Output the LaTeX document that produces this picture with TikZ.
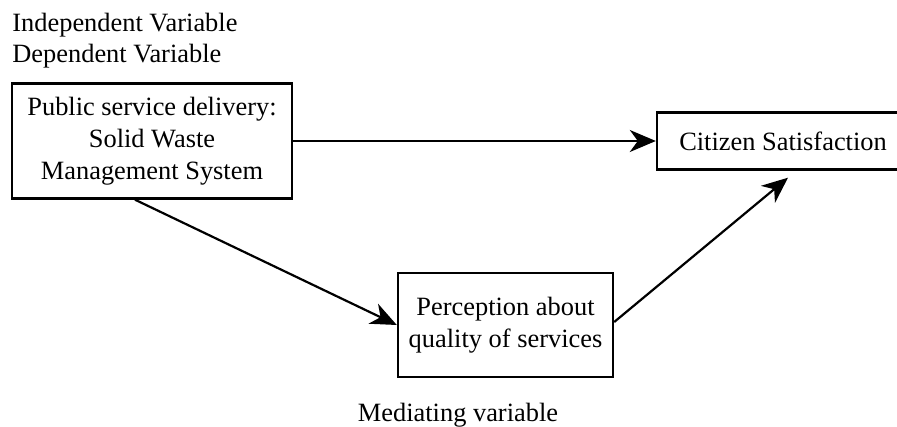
\documentclass[tikz,border=0pt]{standalone}
\usepackage{fontspec}
\setmainfont{Liberation Serif}
\usetikzlibrary{arrows.meta,positioning}

\tikzset{
  varbox/.style={draw, line width=1.2pt, align=center, inner sep=0pt},
  varlabel/.style={inner sep=0pt},
  link/.style={-{Stealth[length=13pt,width=11pt,inset=4pt]}, line width=1.1pt}
}

\begin{document}
\begin{tikzpicture}[x=0.5pt,y=0.5pt]

  \fontsize{13.2}{16}\selectfont
  \useasboundingbox (0,0) rectangle (897,427);

  % labels
  \node[varlabel, anchor=base west] (indep) at (12,395) {Independent Variable};
  \node[varlabel, anchor=base west] (dep) at (12,364) {Dependent Variable};
  \node[varlabel, anchor=base] (med) at (458,5) {Mediating variable};

  % boxes
  \node[varbox, minimum width=140pt, minimum height=57.5pt] (psd) at (152,286)
    {Public service delivery:\\Solid Waste\\Management System};
  \node[varbox, minimum width=126pt, minimum height=28.5pt] (sat) at (783,286)
    {Citizen Satisfaction};
  \node[varbox, minimum width=107.5pt, minimum height=52pt] (perc) at (505.5,102)
    {Perception about\\quality of services};

  \coordinate (sattip) at ([xshift=2.5pt,yshift=-3.5pt]sat.south);

  \draw[link] (psd.east) -- (sat.west); % psd->sat
  \draw[link] ([xshift=-8.5pt]psd.south) -- (perc.west); % psd->perc
  \draw[link] ([yshift=1.5pt]perc.east) -- (sattip); % perc->sat

\end{tikzpicture}
\end{document}
